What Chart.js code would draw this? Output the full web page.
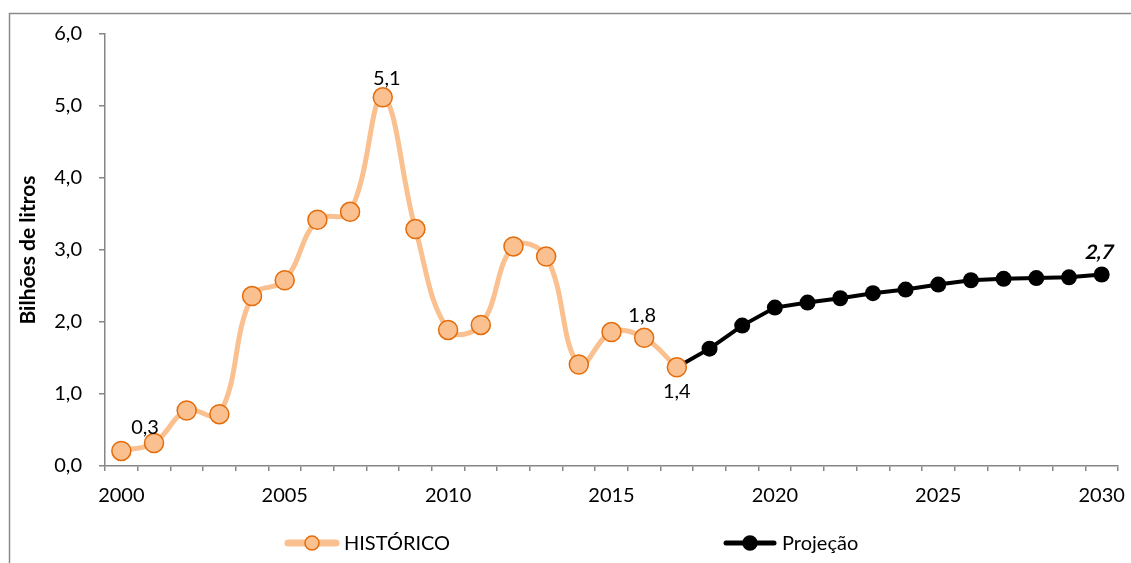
<!DOCTYPE html>
<html>
<head>
<meta charset="utf-8">
<script src="https://cdn.jsdelivr.net/npm/chart.js@4.4.0/dist/chart.umd.min.js"></script>
<style>
    html, body { margin: 0; padding: 0; background: #fff; }
    #wrap { width: 1131px; height: 563px; position: relative; }
</style>
</head>
<body>
<div id="wrap"><canvas id="chart"></canvas></div>
<script>
// Anos do eixo X
const years = ['2000', '2001', '2002', '2003', '2004', '2005', '2006', '2007', '2008', '2009',
               '2010', '2011', '2012', '2013', '2014', '2015', '2016', '2017', '2018', '2019',
               '2020', '2021', '2022', '2023', '2024', '2025', '2026', '2027', '2028', '2029', '2030'];

// Série histórica (2000-2017), bilhões de litros
const historico = [0.21, 0.32, 0.77, 0.72, 2.36, 2.58, 3.42, 3.53, 5.12, 3.29,
                   1.89, 1.96, 3.05, 2.91, 1.41, 1.86, 1.78, 1.37];

// Projeção (2017-2030)
const projecaoStart = '2017';
const projecao = [1.37, 1.63, 1.95, 2.20, 2.27, 2.33, 2.40, 2.45, 2.52, 2.58, 2.60, 2.61, 2.62, 2.66];

// Rótulos do eixo Y
const yTicks = [0, 1, 2, 3, 4, 5, 6];

// Pontos com rótulo de valor
const histLabeled = ['2001', '2008', '2016', '2017'];
const projLabeled = ['2030'];

const colors = {
    hist: '#FAC090',
    histBorder: '#E46C0A',
    proj: '#000000',
    axis: '#868686',
    text: '#000000'
};

const FONT = 'Lato, "Open Sans", sans-serif';
const fmt = v => v.toFixed(1).replace('.', ',');

const projOffset = years.indexOf(projecaoStart);
const histData = years.map((y, i) => i < historico.length ? historico[i] : null);
const projData = years.map((y, i) => i >= projOffset ? projecao[i - projOffset] : null);

// Posição dos rótulos de valor relativa ao ponto
const labelStyle = {
    '0:2001': { dx: -9, dy: -15, bold: false },
    '0:2008': { dx: 4, dy: -19, bold: false },
    '0:2016': { dx: -2, dy: -22, bold: false },
    '0:2017': { dx: 0, dy: 24, bold: false },
    '1:2030': { dx: -2, dy: -22, bold: true }
};

const valueLabels = {
    id: 'valueLabels',
    afterDatasetsDraw(chart) {
        const ctx = chart.ctx;
        ctx.textAlign = 'center';
        ctx.textBaseline = 'middle';
        [[0, histLabeled], [1, projLabeled]].forEach(([di, list]) => {
            const meta = chart.getDatasetMeta(di);
            const data = chart.data.datasets[di].data;
            list.forEach(year => {
                const idx = years.indexOf(year);
                const pt = meta.data[idx];
                const st = labelStyle[di + ':' + year];
                ctx.save();
                ctx.fillStyle = colors.text;
                ctx.font = (st.bold ? 'bold ' : '') + '20px ' + FONT;
                ctx.translate(pt.x + st.dx, pt.y + st.dy);
                // itálico simulado com inclinação
                if (st.bold) ctx.transform(1, 0, -0.2, 1, 0, 0);
                ctx.fillText(fmt(data[idx]), 0, 0);
                ctx.restore();
            });
        });
    }
};

// Moldura cinza do gráfico
const frame = {
    id: 'frame',
    beforeDraw(chart) {
        const ctx = chart.ctx;
        ctx.save();
        ctx.strokeStyle = '#8a8a8a';
        ctx.lineWidth = 1.5;
        ctx.beginPath();
        ctx.moveTo(9.5, chart.height);
        ctx.lineTo(9.5, 13.5);
        ctx.lineTo(chart.width, 13.5);
        ctx.stroke();
        ctx.restore();
    }
};

// Legenda desenhada à mão (itens bem espaçados)
const legendItems = [
    { text: 'HISTÓRICO', x: 285, line: colors.hist, lineWidth: 7, fill: colors.hist, border: colors.histBorder, r: 7 },
    { text: 'Projeção', x: 723, line: colors.proj, lineWidth: 5, fill: colors.proj, border: colors.proj, r: 7 }
];

const bottomLegend = {
    id: 'bottomLegend',
    afterDraw(chart) {
        const ctx = chart.ctx;
        const y = 543;
        ctx.save();
        legendItems.forEach(it => {
            ctx.strokeStyle = it.line;
            ctx.lineWidth = it.lineWidth;
            ctx.lineCap = 'round';
            ctx.beginPath();
            ctx.moveTo(it.x + 3, y);
            ctx.lineTo(it.x + 51, y);
            ctx.stroke();
            ctx.beginPath();
            ctx.arc(it.x + 27, y, it.r, 0, Math.PI * 2);
            ctx.fillStyle = it.fill;
            ctx.fill();
            ctx.lineWidth = 1.5;
            ctx.strokeStyle = it.border;
            ctx.stroke();
            ctx.fillStyle = colors.text;
            ctx.font = '20px ' + FONT;
            ctx.textAlign = 'left';
            ctx.textBaseline = 'middle';
            ctx.fillText(it.text, it.x + 59, y + 1);
        });
        ctx.restore();
    }
};

new Chart(document.getElementById('chart'), {
    type: 'line',
    data: {
        labels: years,
        datasets: [
            {
                label: 'HISTÓRICO',
                data: histData,
                borderColor: colors.hist,
                borderWidth: 5,
                tension: 0.4,
                pointRadius: 9.5,
                pointBackgroundColor: colors.hist,
                pointBorderColor: colors.histBorder,
                pointBorderWidth: 1.5,
                clip: false
            },
            {
                label: 'Projeção',
                data: projData,
                borderColor: colors.proj,
                borderWidth: 4,
                tension: 0,
                pointRadius: 8,
                pointBackgroundColor: colors.proj,
                pointBorderColor: colors.proj,
                pointBorderWidth: 0,
                clip: false
            }
        ]
    },
    options: {
        responsive: true,
        maintainAspectRatio: false,
        animation: false,
        layout: { padding: { top: 34, right: 13, left: 0, bottom: 0 } },
        plugins: {
            legend: { display: false },
            tooltip: { enabled: false }
        },
        scales: {
            x: {
                type: 'category',
                offset: true,
                grid: { offset: true, drawOnChartArea: false, tickLength: 5, color: colors.axis, lineWidth: 1.5 },
                border: { color: colors.axis, width: 1.5 },
                ticks: {
                    autoSkip: false,
                    maxRotation: 0,
                    padding: 13,
                    color: colors.text,
                    font: { family: FONT, size: 20 },
                    callback: function(v, i) { return i % 5 === 0 ? this.getLabelForValue(v) : ''; }
                },
                afterFit: s => {
                    s.height = 97;
                    // o último rótulo pode passar da borda; sem recuo extra
                    s.paddingLeft = 0;
                    s.paddingRight = 0;
                }
            },
            y: {
                min: yTicks[0],
                max: yTicks[yTicks.length - 1],
                grid: { drawOnChartArea: false, tickLength: 6, color: colors.axis, lineWidth: 1.5 },
                border: { color: colors.axis, width: 1.5 },
                ticks: {
                    stepSize: 1,
                    padding: 17,
                    color: colors.text,
                    font: { family: FONT, size: 20 },
                    callback: v => fmt(v)
                },
                title: {
                    display: true,
                    text: 'Bilhões de litros',
                    color: colors.text,
                    font: { family: FONT, size: 21, weight: 'bold' },
                    padding: { top: 16, bottom: 0 }
                },
                afterFit: s => { s.width = 105; }
            }
        }
    },
    plugins: [frame, valueLabels, bottomLegend]
});
</script>
</body>
</html>
